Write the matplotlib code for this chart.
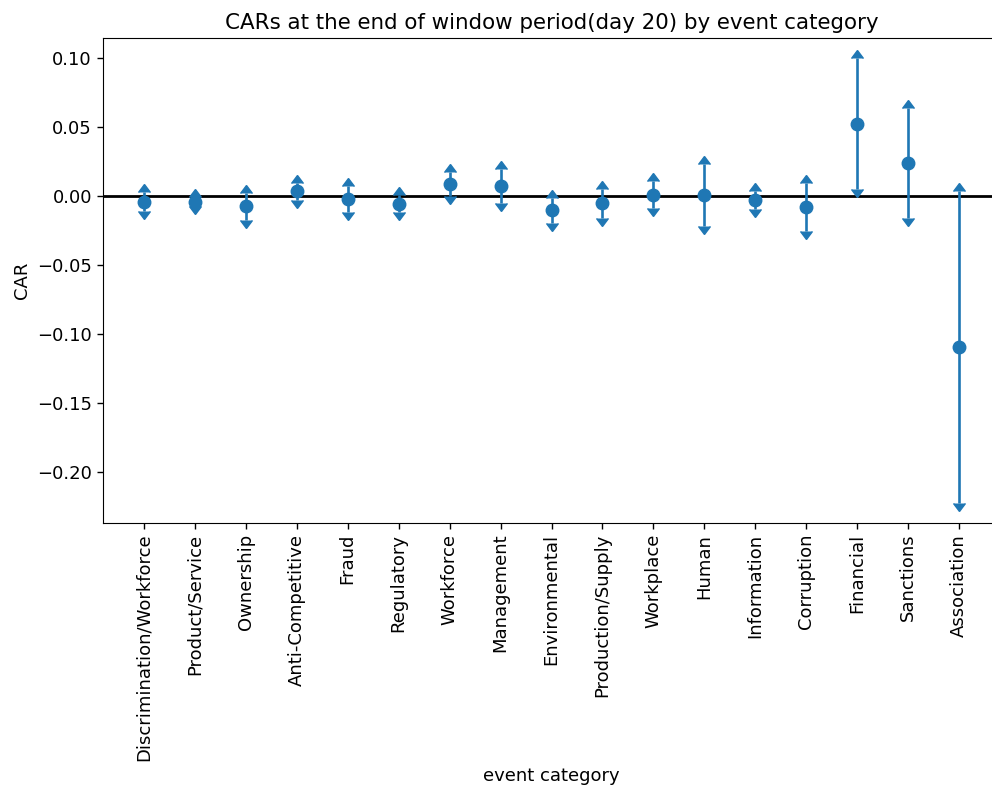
import matplotlib
matplotlib.use("Agg")
import matplotlib.pyplot as plt
import numpy as np

categories = ['Discrimination/Workforce', 'Product/Service', 'Ownership',
              'Anti-Competitive', 'Fraud', 'Regulatory', 'Workforce',
              'Management', 'Environmental', 'Production/Supply', 'Workplace',
              'Human', 'Information', 'Corruption', 'Financial', 'Sanctions',
              'Association']
car = [-0.0039, -0.0039, -0.0073, 0.0037, -0.0018, -0.0054, 0.0089,
       0.0076, -0.0102, -0.0051, 0.0012, 0.0010, -0.0027, -0.0080,
       0.0525, 0.0244, -0.1090]
ci_half = [0.0069, 0.0032, 0.0100, 0.0063, 0.0095, 0.0061, 0.0085,
           0.0121, 0.0093, 0.0104, 0.0097, 0.0222, 0.0068, 0.0173,
           0.0474, 0.0399, 0.1128]

W, H, DPI = 992, 792, 100
FS = 13.0
fig = plt.figure(figsize=(W / DPI, H / DPI), dpi=DPI)
ax = fig.add_axes([103 / W, (H - 522.7) / H, (1000 - 103) / W, (522.7 - 37.7) / H])

x = np.arange(len(categories))
# upper arrows (interval top) with the point estimate
ax.errorbar(x, car, yerr=ci_half, lolims=True, fmt='o', color='C0',
            markersize=9, elinewidth=1.9, capsize=4)
# lower arrows (interval bottom)
ax.errorbar(x, car, yerr=ci_half, uplims=True, fmt='none', ecolor='C0',
            elinewidth=1.9, capsize=4)
ax.axhline(0, color='black', lw=2, zorder=0.5)

ax.set_xlim(-0.8, len(categories) - 0.2)
ax.set_ylim(-0.2364, 0.1149)
ax.set_xticks(x)
ax.set_xticklabels(categories, rotation=90, fontsize=FS)
ax.tick_params(axis='both', labelsize=FS, length=4.5, width=1)
ax.set_ylabel('CAR', fontsize=FS)
ax.set_xlabel('event category', fontsize=FS)
ax.set_title('CARs at the end of window period(day 20) by event category',
             fontsize=15.4)

fig.savefig('out.png', dpi=DPI)
